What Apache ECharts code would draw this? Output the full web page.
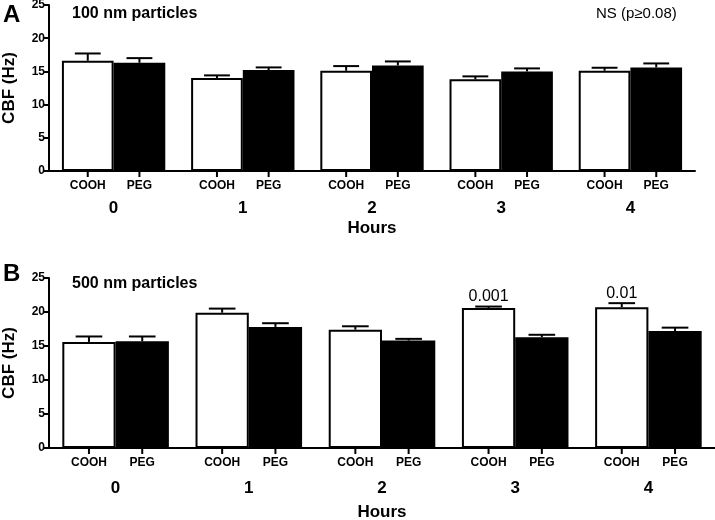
<!DOCTYPE html>
<html>
<head>
<meta charset="utf-8">
<script src="https://cdn.jsdelivr.net/npm/echarts@6/dist/echarts.min.js"></script>
<style>html,body{margin:0;padding:0;background:#fff}#c{width:715px;height:520px}</style>
</head>
<body>
<div id="c"></div>
<script>
const hours = ['0', '1', '2', '3', '4'];
const groups = ['COOH', 'PEG'];
const A_COOH = [16.6, 14.0, 15.1, 13.8, 15.1];
const A_COOH_err = [1.1, 0.4, 0.7, 0.45, 0.45];
const A_PEG = [16.3, 15.2, 15.9, 15.0, 15.6];
const A_PEG_err = [0.7, 0.4, 0.6, 0.45, 0.6];
const B_COOH = [15.6, 19.9, 17.4, 20.6, 20.7];
const B_COOH_err = [0.8, 0.6, 0.5, 0.2, 0.6];
const B_PEG = [15.7, 17.8, 15.8, 16.3, 17.2];
const B_PEG_err = [0.7, 0.55, 0.25, 0.35, 0.5];
const B_annot = ['', '', '', '0.001', '0.01'];
const yTicks = [0, 5, 10, 15, 20, 25];

const FONT = "'Liberation Sans', Arial, sans-serif";
const chart = echarts.init(document.getElementById('c'), null, {renderer: 'canvas'});

function errSeries(gi, vals, errs, side, annot) {
  return {
    type: 'custom',
    xAxisIndex: gi, yAxisIndex: gi,
    z: 5,
    data: vals.map((v, i) => [i, v, errs[i]]),
    encode: {x: 0, y: 1},
    renderItem: function (params, api) {
      const i = api.value(0), v = api.value(1), e = api.value(2);
      const c = api.coord([i, v]);
      const t = api.coord([i, v + e]);
      const y0 = api.coord([i, 0])[1];
      const band = api.size([1, 0])[0];
      const bw = band * 0.4;
      const x = c[0] + side * bw / 2;
      const half = bw / 4;
      const st = {stroke: '#000', lineWidth: 2};
      const ch = [
        {type: 'line', shape: {x1: x, y1: c[1], x2: x, y2: t[1]}, style: st},
        {type: 'line', shape: {x1: x - half, y1: t[1], x2: x + half, y2: t[1]}, style: st},
        {type: 'line', shape: {x1: x, y1: y0, x2: x, y2: y0 + 6}, style: st}
      ];
      const a = annot ? annot[i] : '';
      if (a) {
        ch.push({type: 'text', style: {text: a, x: x, y: t[1] - 10, align: 'center', verticalAlign: 'middle',
          font: '16px ' + FONT, fill: '#000'}});
      }
      return {type: 'group', children: ch};
    }
  };
}

function barSeries(gi, name, vals, fill) {
  return {
    type: 'bar', name: name, xAxisIndex: gi, yAxisIndex: gi,
    data: vals,
    barGap: '0%', barCategoryGap: '20%',
    itemStyle: {color: fill, borderColor: '#000', borderWidth: 2},
    label: {show: true, position: 'bottom', distance: 9, formatter: name,
      fontFamily: FONT, fontWeight: 'bold', fontSize: 12, color: '#000'},
    emphasis: {disabled: true},
    silent: true
  };
}

function xAx(gi, margin, gap) {
  return {
    type: 'category', gridIndex: gi, data: hours,
    axisLine: {lineStyle: {color: '#000', width: 2}},
    axisTick: {show: false},
    axisLabel: {margin: margin, fontFamily: FONT, fontWeight: 'bold', fontSize: 17, color: '#000'},
    name: 'Hours', nameLocation: 'middle', nameGap: gap,
    nameTextStyle: {fontFamily: FONT, fontWeight: 'bold', fontSize: 17, color: '#000'}
  };
}
function yAx(gi) {
  return {
    type: 'value', gridIndex: gi, min: yTicks[0], max: yTicks[yTicks.length - 1], interval: yTicks[1] - yTicks[0],
    axisLine: {show: true, lineStyle: {color: '#000', width: 2}},
    axisTick: {show: true, length: 5, lineStyle: {color: '#000', width: 2}},
    splitLine: {show: false},
    axisLabel: {margin: 4, fontFamily: FONT, fontWeight: 'bold', fontSize: 12, color: '#000'},
    name: 'CBF (Hz)', nameLocation: 'middle', nameGap: 31, nameRotate: 90,
    nameTextStyle: {fontFamily: FONT, fontWeight: 'bold', fontSize: 17, color: '#000'}
  };
}

chart.setOption({
  animation: false,
  backgroundColor: '#fff',
  title: [
    {text: 'A', left: 3, top: 3, padding: 0, textStyle: {fontFamily: FONT, fontWeight: 'bold', fontSize: 24, color: '#000'}},
    {text: '100 nm particles', left: 72, top: 6, padding: 0, textStyle: {fontFamily: FONT, fontWeight: 'bold', fontSize: 16, color: '#000'}},
    {text: 'NS (p\u22650.08)', left: 596, top: 6, padding: 0, textStyle: {fontFamily: FONT, fontWeight: 'normal', fontSize: 15, color: '#000'}},
    {text: 'B', left: 3, top: 262, padding: 0, textStyle: {fontFamily: FONT, fontWeight: 'bold', fontSize: 24, color: '#000'}},
    {text: '500 nm particles', left: 72, top: 276, padding: 0, textStyle: {fontFamily: FONT, fontWeight: 'bold', fontSize: 16, color: '#000'}}
  ],
  grid: [
    {left: 49, top: 5, width: 646, height: 166, containLabel: false, outerBoundsMode: 'none'},
    {left: 49, top: 278, width: 666, height: 170, containLabel: false, outerBoundsMode: 'none'}
  ],
  xAxis: [xAx(0, 29, 49), xAx(1, 32, 56)],
  yAxis: [yAx(0), yAx(1)],
  series: [
    barSeries(0, groups[0], A_COOH, '#fff'),
    barSeries(0, groups[1], A_PEG, '#000'),
    errSeries(0, A_COOH, A_COOH_err, -1, null),
    errSeries(0, A_PEG, A_PEG_err, 1, null),
    barSeries(1, groups[0], B_COOH, '#fff'),
    barSeries(1, groups[1], B_PEG, '#000'),
    errSeries(1, B_COOH, B_COOH_err, -1, B_annot),
    errSeries(1, B_PEG, B_PEG_err, 1, null)
  ]
});
</script>
</body>
</html>
